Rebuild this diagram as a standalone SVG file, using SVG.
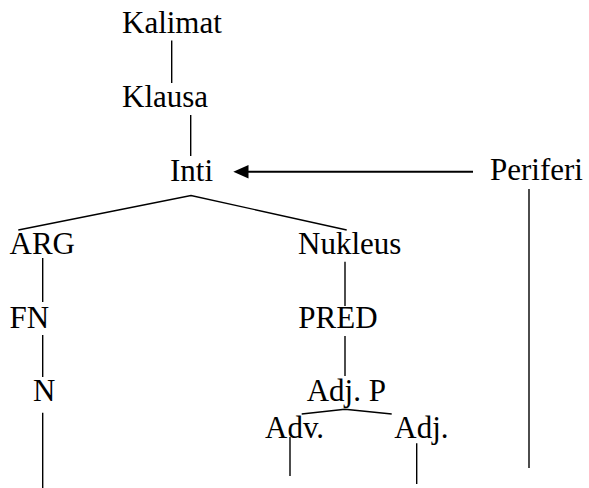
<svg xmlns="http://www.w3.org/2000/svg" width="589" height="488" viewBox="0 0 589 488">
<rect width="589" height="488" fill="#fff"/>
<g id="connectors" stroke="#000" stroke-width="1.4" fill="none">
<line x1="171.7" y1="40.5" x2="171.7" y2="83"/>
<line x1="190.7" y1="115" x2="190.7" y2="156"/>
<line x1="473" y1="171.7" x2="248" y2="171.7" stroke-width="2"/>
<path d="M233.3,171.7 L248.5,165 L248.5,178.4 Z" fill="#000" stroke="none"/>
<line x1="529" y1="189" x2="529" y2="468"/>
<polyline points="18.3,230 191,195.5 346.7,230"/>
<line x1="42.7" y1="258" x2="42.7" y2="302"/>
<line x1="42.7" y1="335" x2="42.7" y2="377"/>
<line x1="42.7" y1="412.7" x2="42.7" y2="488"/>
<line x1="345" y1="261.7" x2="345" y2="306"/>
<line x1="345" y1="336" x2="345" y2="376"/>
<polyline points="301.7,414 345,409.3 391.7,414"/>
<line x1="290" y1="437" x2="290" y2="476"/>
<line x1="416.7" y1="443.3" x2="416.7" y2="484"/>
</g>
<g id="kalimat"><text x="122" y="33" font-size="31" font-family="Times New Roman, serif">Kalimat</text></g>
<g id="klausa"><text x="122" y="107" font-size="31" font-family="Times New Roman, serif">Klausa</text></g>
<g id="inti"><text x="170" y="180.7" font-size="31" font-family="Times New Roman, serif">Inti</text></g>
<g id="periferi"><text x="490" y="180" font-size="31" font-family="Times New Roman, serif">Periferi</text></g>
<g id="arg"><text x="9.5" y="254" font-size="31" font-family="Times New Roman, serif">ARG</text></g>
<g id="nukleus"><text x="298" y="254" font-size="31" font-family="Times New Roman, serif">Nukleus</text></g>
<g id="fn"><text x="9.5" y="328.3" font-size="31" font-family="Times New Roman, serif">FN</text></g>
<g id="pred"><text x="298.3" y="328.3" font-size="31" font-family="Times New Roman, serif">PRED</text></g>
<g id="n"><text x="33" y="400.7" font-size="31" font-family="Times New Roman, serif">N</text></g>
<g id="adjp"><text x="306.7" y="400.7" font-size="31" font-family="Times New Roman, serif">Adj. P</text></g>
<g id="adv"><text x="265" y="438.3" font-size="31" font-family="Times New Roman, serif">Adv.</text></g>
<g id="adj"><text x="394.3" y="438.3" font-size="31" font-family="Times New Roman, serif">Adj.</text></g>
</svg>
